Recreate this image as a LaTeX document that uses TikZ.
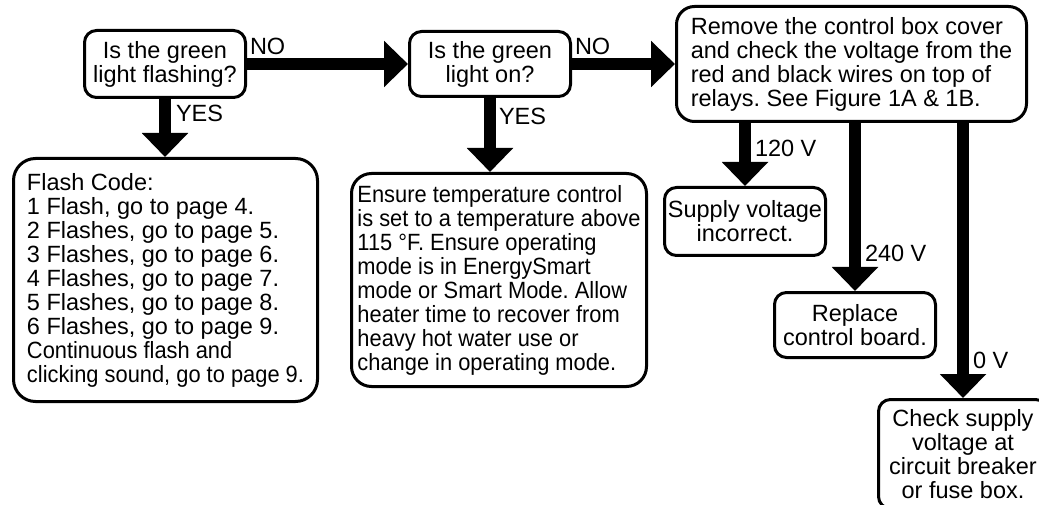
\documentclass[tikz,border=0pt]{standalone}
\usepackage{fontspec}
\setmainfont{Liberation Sans}
\usetikzlibrary{arrows.meta}
\frenchspacing
\newcommand{\bodyfont}{\fontsize{23.5}{24}\selectfont}
\newcommand{\narrowtext}{\addfontfeature{FakeStretch=0.93}}
\begin{document}
\begin{tikzpicture}[x=1pt, y=-1pt, font=\bodyfont, line join=round,
	box/.style={draw, line width=3pt, rounded corners=12pt, inner sep=0pt, align=center},
	bigarrow/.style={line width=12pt, -{Triangle[width=45pt,length=24pt]}},
	lab/.style={inner sep=0pt, outer sep=0pt}]
	\def\W{1039};\def\H{505};
	\useasboundingbox (0,0) rectangle (\W,\H);
	\clip (0,0) rectangle (\W,\H);
	% top row
	\node[box, minimum width=161pt, minimum height=67pt] (flashing) at (165,64) {Is the green\\light flashing?};
	\node[box, minimum width=161pt, minimum height=65pt] (lighton) at (490,64) {Is the green\\light on?};
	\node[box, rounded corners=18pt, align=left, minimum width=350pt, minimum height=115pt] (relays) at (851.5,64)
	{Remove the control box cover\\and check the voltage from the\\red and black wires on top of\\relays. See Figure 1A \& 1B.};
	% answers
	\node[box, rounded corners=22pt, align=left, minimum width=304pt, minimum height=243pt] (flashcode) at (165.5,280)
	{Flash Code:\\1 Flash, go to page 4.\\2 Flashes, go to page 5.\\3 Flashes, go to page 6.\\4 Flashes, go to page 7.\\5 Flashes, go to page 8.\\6 Flashes, go to page 9.\\{\narrowtext Continuous flash and}\\{\narrowtext clicking sound, go to page 9.}};
	\node[box, rounded corners=20pt, align=left, font=\bodyfont\narrowtext, minimum width=295pt, minimum height=213pt] (ensure) at (499,280)
	{Ensure temperature control\\is set to a temperature above\\115 °F. Ensure operating\\mode is in EnergySmart\\mode or Smart Mode. Allow\\heater time to recover from\\heavy hot water use or\\change in operating mode.};
	\node[box, minimum width=161pt, minimum height=68pt] (supply) at (745,221.5) {Supply voltage\\incorrect.};
	\node[box, minimum width=161pt, minimum height=65pt] (replace) at (855,325) {Replace\\control board.};
	\node[box, minimum width=169pt, minimum height=109pt] (breaker) at (963,454) {Check supply\\voltage at\\circuit breaker\\or fuse box.};
	% arrows
	\draw[bigarrow] (flashing) -- (lighton) node[lab, pos=0, anchor=south west, shift={(3pt,9pt)}] {NO};
	\draw[bigarrow] (lighton) -- (relays) node[lab, pos=0, anchor=south west, shift={(3pt,9pt)}] {NO};
	\draw[bigarrow] (flashing.south) -- (flashing.south |- flashcode.north) node[lab, pos=0, anchor=north west, shift={(11pt,-6pt)}] {YES};
	\draw[bigarrow] (lighton.south) -- (lighton.south |- ensure.north) node[lab, pos=0, anchor=north west, shift={(9pt,-10pt)}] {YES};
	\foreach \t/\v in {supply/120 V, replace/240 V, breaker/0 V}{
		\draw[bigarrow] (relays.south -| \t) -- (\t.north) node[lab, pos=1, anchor=south west, shift={(10pt,29pt)}] {\v};
	}
\end{tikzpicture}
\end{document}
